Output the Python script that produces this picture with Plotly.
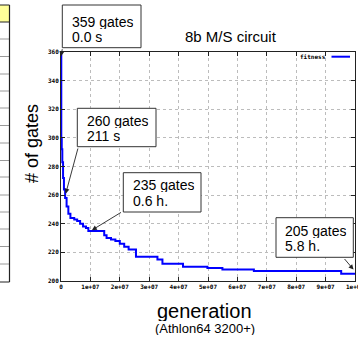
import plotly.graph_objects as go

# ---------------- data ----------------
generation = [0, 1.0e5, 2.5e5, 4.5e5, 7.0e5, 1.0e6, 1.4e6, 1.9e6, 2.5e6, 3.2e6,
              4.5e6, 5.5e6, 6.5e6, 7.5e6, 8.5e6, 9.3e6, 1.47e7, 1.55e7, 1.70e7,
              1.85e7, 2.00e7, 2.15e7, 2.30e7, 2.55e7, 3.28e7, 3.45e7, 4.15e7,
              4.98e7, 5.49e7, 6.56e7, 9.53e7, 1.0e8]
gates = [359, 300, 292, 283, 272, 264, 258, 252, 247, 244,
         243, 242, 240, 238, 237, 235, 232, 230, 229,
         228, 226, 224, 222, 217, 215, 212, 210,
         209, 208, 207, 205, 205]

x_tickvals = [0, 1e7, 2e7, 3e7, 4e7, 5e7, 6e7, 7e7, 8e7, 9e7, 1e8]
x_ticktext = ["0", "1e+07", "2e+07", "3e+07", "4e+07", "5e+07", "6e+07",
              "7e+07", "8e+07", "9e+07", "1e+08"]
y_tickvals = [200, 220, 240, 260, 280, 300, 320, 340, 360]
y_ticktext = ["200", "220", "240", "260", "280", "300", "320", "340", "360"]

# annotation callouts: label lines and the point each arrow marks
callout_line1 = ["359 gates", "260 gates", "235 gates", "205 gates"]
callout_line2 = ["0.0 s", "211 s", "0.6 h.", "5.8 h."]
callout_gen = [0, 1.6e6, 1.05e7, 9.95e7]
callout_val = [357, 261, 235.5, 208]

title_text = "8b M/S circuit"
x_title = "generation"
x_subtitle = "(Athlon64 3200+)"
y_title = "# of gates"
legend_label = "fitness"

# ---------------- layout geometry (pixels) ----------------
W, H = 358, 340
L, R, T, B = 61, 355, 52, 281


def px(x):
    return (x - L) / (R - L)


def py(y):
    return (B - y) / (B - T)


def inv_x(pxv):
    return (pxv - L) / (R - L) * 1e8


def inv_y(pyv):
    return 200 + (B - pyv) / (B - T) * 160


FONT = "Liberation Sans, Arial, sans-serif"
MONO = "DejaVu Sans Mono, monospace"

fig = go.Figure()
fig.add_trace(go.Scatter(x=generation, y=gates, mode="lines",
                         line=dict(color="#0000ff", width=2, shape="hv"),
                         name=legend_label, showlegend=False,
                         hoverinfo="skip"))

axis_common = dict(showgrid=True, gridcolor="#bcbcbc", griddash="dot",
                   gridwidth=1, showline=True, linecolor="#222",
                   linewidth=1, mirror="ticks", ticks="inside", ticklen=4,
                   tickcolor="#222", zeroline=False, automargin=False,
                   ticklabeloverflow="allow",
                   tickfont=dict(family=MONO, size=6, color="#000",
                                 weight="bold"))

fig.update_xaxes(range=[0, 1e8], tickvals=x_tickvals, ticktext=x_ticktext,
                 **axis_common)
fig.update_yaxes(range=[200, 360], tickvals=y_tickvals, ticktext=y_ticktext,
                 **axis_common)

shapes = []
annotations = []

# ---- left table fragment (slide background) ----
shapes.append(dict(type="rect", xref="paper", yref="paper",
                   x0=px(-5), x1=px(9.5), y0=py(22), y1=py(5),
                   fillcolor="#ffff99", line=dict(color="#222", width=1),
                   layer="below"))
row_lines = [39, 56.5, 74, 91, 108, 125.5, 143, 160.5, 177, 195, 212, 229,
             246.5, 264]
for yy in row_lines:
    shapes.append(dict(type="line", xref="paper", yref="paper",
                       x0=px(-5), x1=px(9.5), y0=py(yy), y1=py(yy),
                       line=dict(color="#9a9a9a", width=1)))
shapes.append(dict(type="line", xref="paper", yref="paper",
                   x0=px(-5), x1=px(9.5), y0=py(282), y1=py(282),
                   line=dict(color="#222", width=1)))
shapes.append(dict(type="line", xref="paper", yref="paper",
                   x0=px(9.5), x1=px(9.5), y0=py(5), y1=py(282),
                   line=dict(color="#222", width=1.2)))

# ---- callout boxes ----
boxes = [(62.3, 5, 141, 47.7), (77.3, 108.3, 156, 146.7),
         (123.3, 172.7, 201, 212), (276, 217.7, 353.3, 257.3)]
text_left = [70.7, 86, 131.7, 284]
line1_y = [21.7, 120, 184.3, 230]
line2_y = [36.7, 135.7, 200, 245]
tails = [(62.5, 47.7), (78.3, 147), (122.5, 211.5), (343.3, 257.5)]

for i in range(4):
    x0, y0, x1, y1 = boxes[i]
    shapes.append(dict(type="rect", xref="paper", yref="paper",
                       x0=px(x0), x1=px(x1), y0=py(y1), y1=py(y0),
                       fillcolor="white", line=dict(color="#333", width=1)))
    for txt, yy in ((callout_line1[i], line1_y[i]),
                    (callout_line2[i], line2_y[i])):
        annotations.append(dict(text=txt, xref="paper", yref="paper",
                                x=px(text_left[i]), y=py(yy),
                                xanchor="left", yanchor="middle",
                                showarrow=False, borderpad=0, height=15,
                                font=dict(family=FONT, size=14,
                                          color="#000")))

# arrows (tail from box corner to the data point)
for i in range(4):
    annotations.append(dict(text="", x=callout_gen[i], y=callout_val[i],
                            xref="x", yref="y", showarrow=True,
                            axref="x", ayref="y",
                            ax=inv_x(tails[i][0]), ay=inv_y(tails[i][1]),
                            arrowcolor="#222", arrowhead=2, arrowsize=1.1,
                            arrowwidth=0.9, standoff=0))

# ---- titles ----
annotations.append(dict(text=title_text, xref="paper", yref="paper",
                        x=px(230.5), y=py(36.7), xanchor="center",
                        yanchor="middle", showarrow=False,
                        font=dict(family=FONT, size=15, color="#000")))
annotations.append(dict(text=y_title, xref="paper", yref="paper",
                        x=px(32), y=py(144), xanchor="center",
                        yanchor="middle", showarrow=False, textangle=-90,
                        font=dict(family=FONT, size=18, color="#000")))
annotations.append(dict(text=x_title, xref="paper", yref="paper",
                        x=px(204), y=py(310.5), xanchor="center",
                        yanchor="middle", showarrow=False, height=21,
                        borderpad=0,
                        font=dict(family=FONT, size=20, color="#000")))
annotations.append(dict(text=x_subtitle, xref="paper", yref="paper",
                        x=px(205), y=py(328), xanchor="center",
                        yanchor="middle", showarrow=False, height=14,
                        borderpad=0,
                        font=dict(family=FONT, size=13, color="#000")))
annotations.append(dict(text="21", xref="paper", yref="paper",
                        x=px(312), y=py(338.5), xanchor="center",
                        yanchor="top", showarrow=False, borderpad=0,
                        font=dict(family=FONT, size=14, color="#000")))

# ---- manual legend (gnuplot style: label then line sample) ----
annotations.append(dict(text=legend_label, xref="paper", yref="paper",
                        x=px(327), y=py(56.7), xanchor="right",
                        yanchor="middle", showarrow=False, borderpad=0,
                        font=dict(family=MONO, size=6, color="#000",
                                  weight="bold")))
shapes.append(dict(type="line", xref="paper", yref="paper",
                   x0=px(331.5), x1=px(350), y0=py(56.7), y1=py(56.7),
                   line=dict(color="#0000ff", width=2)))

fig.update_layout(width=W, height=H, autosize=False,
                  margin=dict(l=L, r=W - R, t=T, b=H - B, pad=0),
                  paper_bgcolor="white", plot_bgcolor="white",
                  showlegend=False, shapes=shapes, annotations=annotations)

fig.write_html("out.html", config={"displayModeBar": False},
               post_script="document.body.style.margin='0';"
                           "document.body.style.overflow='hidden';")
